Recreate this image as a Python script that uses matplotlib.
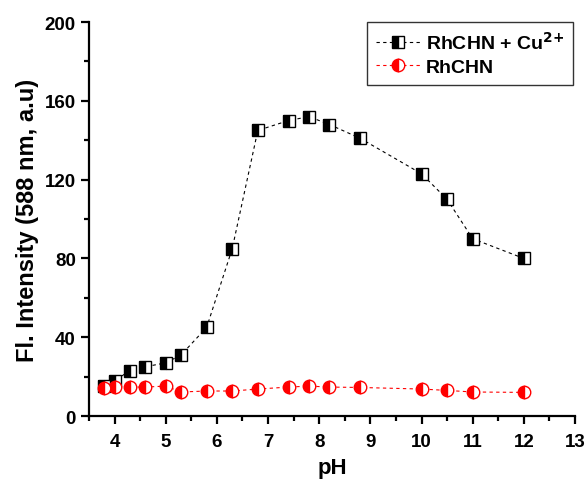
import numpy as np
import matplotlib.pyplot as plt
from matplotlib.ticker import MultipleLocator

plt.rcParams['font.family'] = ['Liberation Sans', 'DejaVu Sans']
plt.rcParams['font.weight'] = 'bold'

# pH values
ph_cu = [3.8, 4.0, 4.3, 4.6, 5.0, 5.3, 5.8, 6.3, 6.8, 7.4, 7.8, 8.2, 8.8, 10.0, 10.5, 11.0, 12.0]
fl_cu = [15, 18, 23, 25, 27, 31, 45, 85, 145, 150, 152, 148, 141, 123, 110, 90, 80]

ph_free = [3.8, 4.0, 4.3, 4.6, 5.0, 5.3, 5.8, 6.3, 6.8, 7.4, 7.8, 8.2, 8.8, 10.0, 10.5, 11.0, 12.0]
fl_free = [14, 14.7, 14.7, 14.7, 15.2, 12.2, 12.7, 12.7, 13.7, 14.7, 15.2, 14.7, 14.5, 13.7, 13, 12.2, 12]

fig = plt.figure(figsize=(5.87, 4.81), dpi=100)
ax = fig.add_axes([0.1516, 0.133, 0.828, 0.819])

ax.plot(ph_cu, fl_cu, linestyle=(0, (3, 3)), color='black', linewidth=0.8,
        marker='s', markersize=8, fillstyle='left', markerfacecolor='black',
        markerfacecoloralt='white', markeredgecolor='black', markeredgewidth=1,
        label=r'RhCHN + Cu$^{\mathbf{2{+}}}$')
ax.plot(ph_free, fl_free, linestyle=(0, (3, 3)), color='red', linewidth=0.8,
        marker='o', markersize=9, fillstyle='left', markerfacecolor='red',
        markerfacecoloralt='white', markeredgecolor='red', markeredgewidth=1,
        label='RhCHN')

ax.set_xlim(3.5, 13)
ax.set_ylim(0, 200)
ax.xaxis.set_major_locator(MultipleLocator(1))
ax.xaxis.set_minor_locator(MultipleLocator(0.5))
ax.yaxis.set_major_locator(MultipleLocator(40))
ax.yaxis.set_minor_locator(MultipleLocator(20))

for s in ['top', 'right']:
    ax.spines[s].set_visible(False)
for s in ['left', 'bottom']:
    ax.spines[s].set_linewidth(1.6)

ax.tick_params(which='major', direction='out', length=6, width=1.6, labelsize=13.5)
ax.tick_params(axis='x', which='major', pad=6)
ax.tick_params(which='minor', direction='out', length=3.5, width=1.6)

ax.set_xlabel('pH', fontsize=16, fontweight='bold', labelpad=5)
ax.set_ylabel('Fl. Intensity (588 nm, a.u)', fontsize=17, fontweight='bold', labelpad=4)

leg = ax.legend(loc='upper right', bbox_to_anchor=(0.996, 1.0), borderaxespad=0,
                fontsize=14, fancybox=False, edgecolor='black', handlelength=2.3,
                handletextpad=0.3, labelspacing=0.3, borderpad=0.45)
leg.get_frame().set_linewidth(1.0)

fig.savefig('out.png', dpi=100)
